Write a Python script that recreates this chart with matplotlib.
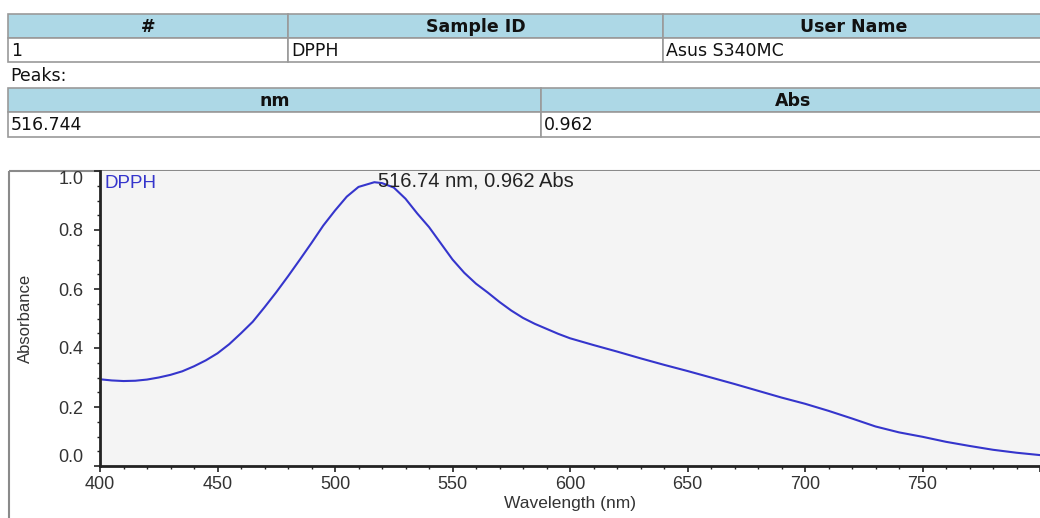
import numpy as np
import matplotlib
matplotlib.use("Agg")
import matplotlib.pyplot as plt
from matplotlib.patches import Rectangle
from matplotlib.ticker import MultipleLocator

# header tables
info_headers = ["#", "Sample ID", "User Name"]
info_values = ["1", "DPPH", "Asus S340MC"]
peak_headers = ["nm", "Abs"]
peak_values = ["516.744", "0.962"]

# spectrum
wavelength = [400, 405, 410, 415, 420, 425, 430, 435, 440, 445, 450, 455,
              460, 465, 470, 475, 480, 485, 490, 495, 500, 505, 510, 516.74,
              520, 525, 530, 535, 540, 545, 550, 555, 560, 565, 570, 575,
              580, 585, 590, 595, 600, 610, 620, 630, 640, 650, 660, 670,
              680, 690, 700, 710, 720, 730, 740, 750, 760, 770, 780, 790, 800]
absorbance = [0.294, 0.290, 0.288, 0.289, 0.293, 0.300, 0.309, 0.321, 0.338,
              0.358, 0.382, 0.413, 0.450, 0.489, 0.538, 0.589, 0.643, 0.699,
              0.756, 0.815, 0.866, 0.913, 0.946, 0.962, 0.959, 0.944, 0.906,
              0.856, 0.810, 0.755, 0.700, 0.655, 0.618, 0.588, 0.556, 0.527,
              0.502, 0.482, 0.465, 0.448, 0.433, 0.410, 0.388, 0.365, 0.343,
              0.322, 0.300, 0.278, 0.255, 0.232, 0.211, 0.187, 0.161, 0.134,
              0.114, 0.099, 0.082, 0.068, 0.055, 0.045, 0.037]
peak_nm = 516.74
peak_abs = 0.962

W, H = 1040, 518
fig = plt.figure(figsize=(W / 100, H / 100), dpi=100)

# overlay axes in pixel coordinates (y down) for the tables
bg = fig.add_axes([0, 0, 1, 1])
bg.set_xlim(0, W)
bg.set_ylim(H, 0)
bg.axis("off")

head_col = "#add8e6"
line_col = "#9a9a9a"
tfont = "DejaVu Sans"
tsize = 12.5


def table_row(x_edges, y0, y1, texts, header):
    for i, txt in enumerate(texts):
        xa, xb = x_edges[i], x_edges[i + 1]
        bg.add_patch(Rectangle((xa, y0), xb - xa, y1 - y0,
                               facecolor=head_col if header else "white",
                               edgecolor=line_col, lw=1.2))
        if header:
            bg.text((xa + xb) / 2, (y0 + y1) / 2 + 1, txt, ha="center", va="center",
                    fontsize=tsize, fontweight="bold", family=tfont, color="#111111")
        else:
            bg.text(xa + 3, (y0 + y1) / 2 + 1, txt, ha="left", va="center",
                    fontsize=tsize, family=tfont, color="#111111")


cols1 = [8, 288, 663, 1045]
table_row(cols1, 14, 38, info_headers, True)
table_row(cols1, 38, 62, info_values, False)
bg.text(10, 76, "Peaks:", ha="left", va="center", fontsize=tsize, family=tfont,
        color="#111111")
cols2 = [8, 541, 1045]
table_row(cols2, 88, 112, peak_headers, True)
table_row(cols2, 112, 137, peak_values, False)

# outer frame of the graph panel
bg.add_patch(Rectangle((9, 171), 1100, 400, facecolor="none",
                       edgecolor="#8a8a8a", lw=1.5))

# spectrum axes
left, right, top, bottom = 100, 1040, 171, 466
ax = fig.add_axes([left / W, (H - bottom) / H, (right - left) / W, (bottom - top) / H])
ax.set_facecolor("#f4f4f4")
ax.plot(wavelength, absorbance, color="#3535cc", lw=1.5)
ax.set_xlim(400, 800)
ax.set_ylim(0, 1.0)

for s in ["top", "right"]:
    ax.spines[s].set_visible(False)
for s in ["left", "bottom"]:
    ax.spines[s].set_linewidth(2)
    ax.spines[s].set_color("#222222")

ax.xaxis.set_major_locator(MultipleLocator(50))
ax.xaxis.set_minor_locator(MultipleLocator(10))
ax.yaxis.set_major_locator(MultipleLocator(0.2))
ax.yaxis.set_minor_locator(MultipleLocator(0.05))
ax.tick_params(which="major", direction="out", length=4, width=1.2,
               colors="#222222", labelcolor="#333333", labelsize=13)
ax.tick_params(which="minor", direction="out", length=2.5, width=1, colors="#222222")
ax.tick_params(axis="y", which="major", pad=8)
ax.yaxis.set_major_formatter(plt.FuncFormatter(lambda v, p: f"{v:.1f}"))
# the 800 label falls off the right edge in the original
ax.xaxis.set_major_formatter(plt.FuncFormatter(lambda v, p: "" if v >= 800 else f"{v:.0f}"))

lab_font = "Liberation Sans"
for lab in ax.get_xticklabels() + ax.get_yticklabels():
    lab.set_family(lab_font)

# edge labels are pulled inside the axis range
yticks = ax.yaxis.get_major_ticks()
for t, v in zip(yticks, ax.get_yticks()):
    if abs(v - 1.0) < 1e-6:
        t.label1.set_va("top")
    elif abs(v) < 1e-6:
        t.label1.set_va("bottom")

ax.set_xlabel("Wavelength (nm)", fontsize=12.5, family=lab_font, color="#333333",
              labelpad=2)
ax.set_ylabel("Absorbance", fontsize=12, family=lab_font, color="#333333",
              labelpad=18)

ax.text(0.005, 0.985, "DPPH", transform=ax.transAxes, ha="left", va="top",
        fontsize=13.5, family=lab_font, color="#3535cc")
ax.text(peak_nm + 1.5, peak_abs + 0.003, f"{peak_nm:.2f} nm, {peak_abs:.3f} Abs",
        ha="left", va="center", fontsize=14.5, family=lab_font, color="#222222")

fig.savefig("out.png", dpi=100)
